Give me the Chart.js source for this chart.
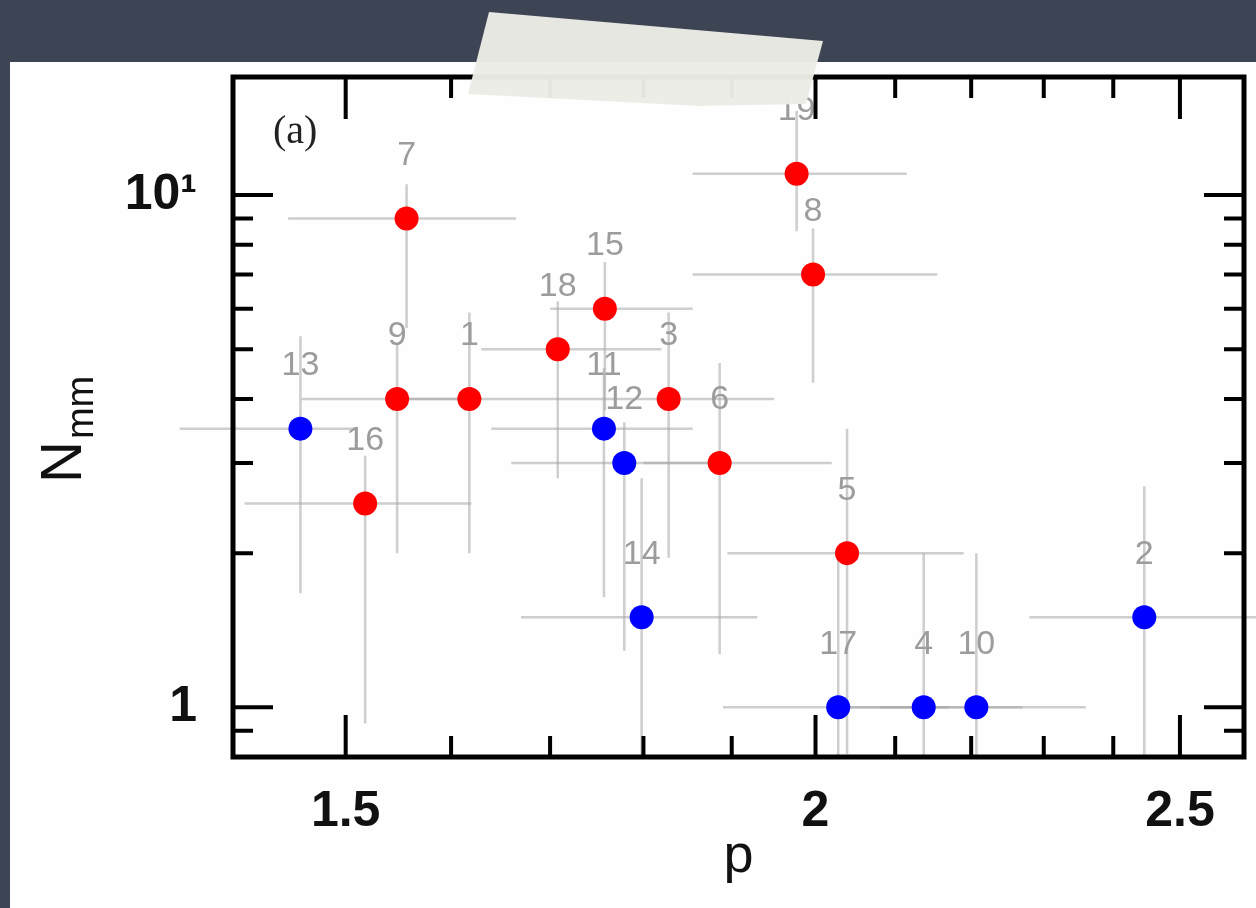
<!DOCTYPE html>
<html><head><meta charset="utf-8">
<style>html,body{margin:0;padding:0;background:#3d4453;overflow:hidden}#wrap{width:1256px;height:908px}</style>
<script src="https://cdn.jsdelivr.net/npm/chart.js@4.4.1/dist/chart.umd.min.js"></script>
</head><body><div id="wrap"><canvas id="c" width="1256" height="908"></canvas></div>
<script>
// ---- data ----
const redIds  = ['7','9','1','16','18','15','3','6','19','8','5'];
const redP    = [1.557,1.548,1.618,1.518,1.708,1.758,1.828,1.886,1.977,1.997,2.039];
const redN    = [9,4,4,2.5,5,6,4,3,11,7,2];
const redPLo  = [1.448,1.46,1.55,1.41,1.63,1.70,1.74,1.80,1.855,1.855,1.895];
const redPHi  = [1.665,1.63,1.74,1.62,1.82,1.855,1.95,2.02,2.115,2.155,2.19];
const redNLo  = [5.5,2.0,2.0,0.93,2.8,3.8,1.96,1.27,8.5,4.3,0.81];
const redNHi  = [10.5,5.1,5.9,3.1,6.2,7.4,5.9,4.7,14.6,8.6,3.5];

const blueIds = ['13','11','12','14','17','4','10','2'];
const blueP   = [1.459,1.757,1.779,1.798,2.028,2.137,2.207,2.446];
const blueN   = [3.5,3.5,3,1.5,1,1,1,1.5];
const bluePLo = [1.355,1.64,1.66,1.67,1.89,2.02,2.08,2.28];
const bluePHi = [1.51,1.855,1.90,1.93,2.17,2.27,2.36,2.75];
const blueNLo = [1.67,1.64,1.29,0.75,0.75,0.75,0.75,0.75];
const blueNHi = [5.3,4.6,3.6,2.8,2.0,2.0,2.0,2.7];

const xTickValues = [1.5, 2, 2.5];
const xTickLabels = ['1.5', '2', '2.5'];
const xMinorValues = [1.6,1.7,1.8,1.9,2.1,2.2,2.3,2.4];
const yTickValues = [1, 10];
const yTickLabels = ['1', '10\u00B9'];
const yMinorValues = [0.9,2,3,4,5,6,7,8,9];

const FONT = "'Liberation Sans', Arial, Helvetica, sans-serif";

function drawBars(ctx, xs, ys, P, N, PLo, PHi, NLo, NHi){
  for (let i=0;i<P.length;i++){
    const x = xs.getPixelForValue(P[i]), y = ys.getPixelForValue(N[i]);
    ctx.beginPath();
    ctx.moveTo(xs.getPixelForValue(PLo[i]), y);
    ctx.lineTo(xs.getPixelForValue(PHi[i]), y);
    ctx.moveTo(x, ys.getPixelForValue(NLo[i]));
    ctx.lineTo(x, ys.getPixelForValue(NHi[i]));
    ctx.stroke();
  }
}
function drawIds(ctx, xs, ys, P, N, ids){
  for (let i=0;i<P.length;i++){
    ctx.fillText(ids[i], xs.getPixelForValue(P[i]), ys.getPixelForValue(N[i]) - 63);
  }
}

const decor = {
  id: 'decor',
  beforeDraw(chart){
    const ctx = chart.ctx;
    ctx.save();
    ctx.fillStyle = '#3d4453';
    ctx.fillRect(0,0,chart.width,chart.height);
    ctx.fillStyle = '#fefefe';
    ctx.fillRect(10,62,chart.width-10,chart.height-62);
    ctx.restore();
  },
  beforeDatasetsDraw(chart){
    const {ctx, chartArea:a, scales:{x:xs, y:ys}} = chart;
    ctx.save();
    ctx.beginPath();
    ctx.rect(0, a.top, chart.width, a.bottom - a.top);
    ctx.clip();
    ctx.strokeStyle = 'rgba(165,165,165,0.55)';
    ctx.lineWidth = 2.5;
    drawBars(ctx, xs, ys, redP, redN, redPLo, redPHi, redNLo, redNHi);
    drawBars(ctx, xs, ys, blueP, blueN, bluePLo, bluePHi, blueNLo, blueNHi);
    ctx.restore();
    // number labels
    ctx.save();
    ctx.fillStyle = '#9c9c9c';
    ctx.font = "34px " + FONT;
    ctx.textAlign = 'center';
    ctx.textBaseline = 'middle';
    drawIds(ctx, xs, ys, redP, redN, redIds);
    drawIds(ctx, xs, ys, blueP, blueN, blueIds);
    ctx.restore();
  },
  afterDatasetsDraw(chart){
    const {ctx, chartArea:a, scales:{x:xs, y:ys}} = chart;
    ctx.save();
    ctx.strokeStyle = '#000';
    ctx.lineWidth = 4;
    ctx.lineCap = 'butt';
    ctx.beginPath();
    const tick = (vals, len) => {
      vals.forEach(v => {
        const px = xs.getPixelForValue(v);
        ctx.moveTo(px, a.bottom); ctx.lineTo(px, a.bottom - len);
        ctx.moveTo(px, a.top); ctx.lineTo(px, a.top + len);
      });
    };
    const ytick = (vals, len) => {
      vals.forEach(v => {
        const py = ys.getPixelForValue(v);
        ctx.moveTo(a.left, py); ctx.lineTo(a.left + len, py);
        ctx.moveTo(a.right, py); ctx.lineTo(a.right - len, py);
      });
    };
    tick(xTickValues, 42); tick(xMinorValues, 21);
    ytick(yTickValues, 40); ytick(yMinorValues, 20);
    ctx.stroke();
    ctx.lineWidth = 5;
    ctx.strokeRect(a.left, a.top, a.right - a.left, a.bottom - a.top);
    ctx.restore();

    // panel label
    ctx.save();
    ctx.fillStyle = '#222';
    ctx.font = "40px 'Liberation Serif', 'Times New Roman', serif";
    ctx.textBaseline = 'alphabetic';
    ctx.textAlign = 'left';
    ctx.fillText('(a)', a.left + 40, a.top + 66);
    ctx.restore();

    // y axis title with subscript
    ctx.save();
    ctx.fillStyle = '#111';
    ctx.translate(81, 483);
    ctx.rotate(-Math.PI/2);
    ctx.textBaseline = 'alphabetic';
    ctx.textAlign = 'left';
    ctx.font = "58px " + FONT;
    ctx.fillText('N', 0, 0);
    const w = ctx.measureText('N').width;
    ctx.font = "38px " + FONT;
    ctx.fillText('mm', w + 2, 12);
    ctx.restore();
  },
  afterDraw(chart){
    const ctx = chart.ctx;
    ctx.save();
    ctx.fillStyle = 'rgba(236,236,230,0.97)';
    ctx.beginPath();
    ctx.moveTo(489, 12);
    ctx.lineTo(823, 41);
    ctx.lineTo(806, 104);
    ctx.lineTo(700, 106);
    ctx.lineTo(468, 94);
    ctx.closePath();
    ctx.fill();
    ctx.restore();
  }
};

new Chart(document.getElementById('c'), {
  type: 'scatter',
  data: {
    datasets: [
      { label: 'red', data: redP.map((p,i)=>({x:p, y:redN[i]})),
        backgroundColor: '#ff0000', borderWidth: 0, pointRadius: 12, pointHoverRadius: 12 },
      { label: 'blue', data: blueP.map((p,i)=>({x:p, y:blueN[i]})),
        backgroundColor: '#0000ff', borderWidth: 0, pointRadius: 12, pointHoverRadius: 12 }
    ]
  },
  options: {
    responsive: false,
    devicePixelRatio: 1,
    animation: false,
    layout: { padding: { left: 0, right: 11, top: 77, bottom: 0 } },
    plugins: { legend: { display: false }, tooltip: { enabled: false } },
    scales: {
      x: {
        type: 'logarithmic', min: 1.4, max: 2.6, bounds: 'data',
        grid: { display: false, drawTicks: false },
        border: { display: false },
        afterBuildTicks: s => { s.ticks = xTickValues.map(v => ({ value: v })); },
        afterFit: s => { s.height = 151; },
        ticks: {
          autoSkip: false, maxRotation: 0, padding: 30, color: '#111',
          font: { family: FONT, size: 50, weight: 'bold', lineHeight: 1 },
          callback: (v) => { const k = xTickValues.indexOf(v); return k >= 0 ? xTickLabels[k] : ''; }
        },
        title: { display: true, text: 'p', color: '#111',
          font: { family: FONT, size: 54, lineHeight: 1 }, padding: { top: 0, bottom: 24 } }
      },
      y: {
        type: 'logarithmic', min: 0.8, max: 17, bounds: 'data', position: 'left',
        grid: { display: false, drawTicks: false },
        border: { display: false },
        afterBuildTicks: s => { s.ticks = yTickValues.map(v => ({ value: v })); },
        afterFit: s => { s.width = 233; },
        ticks: {
          autoSkip: false, padding: 36, color: '#111',
          font: { family: FONT, size: 50, weight: 'bold', lineHeight: 1 },
          callback: (v) => { const k = yTickValues.indexOf(v); return k >= 0 ? yTickLabels[k] : ''; }
        }
      }
    }
  },
  plugins: [decor]
});
</script></body></html>
